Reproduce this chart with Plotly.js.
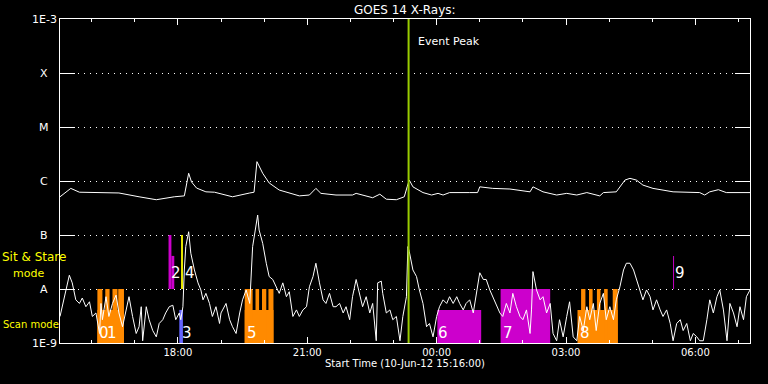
<!DOCTYPE html>
<html>
<head>
<meta charset="utf-8">
<script src="https://cdn.plot.ly/plotly-3.0.1.min.js"></script>
<style>
html,body{margin:0;padding:0;background:#000;}
#chart{width:768px;height:384px;}
</style>
</head>
<body>
<div id="chart"></div>
<script>
// ---------- data ----------
const startLabel = 'Start Time (10-Jun-12 15:16:00)';
const chartTitle = 'GOES 14 X-Rays:';
const xRange = ['2012-06-10 15:16', '2012-06-11 07:16'];

// long channel (1-8 A)
const longTime = ['15:16','15:31','15:43','16:11','16:38','17:06','17:30','17:55','18:09','18:15','18:19','18:26','18:39','18:51','19:16','19:40','19:46','19:50','19:58','20:07','20:21','20:49','21:03','21:12','21:19','21:40','22:03','22:08','22:31','22:41','22:50','23:04','23:15','23:19','23:22','23:27','23:41','23:53','00:02','00:09','00:18','00:46','00:57','01:00','01:18','01:42','02:10','02:14','02:28','02:47','03:01','03:15','03:29','03:47','03:52','04:10','04:22','04:29','04:38','04:47','05:01','05:29','06:06','06:13','06:20','06:32','06:43','07:16'];
const longFlux = [5.1e-7,7.3e-7,6.2e-7,6.0e-7,6.0e-7,5.1e-7,4.5e-7,5.1e-7,5.3e-7,1.39e-6,9.6e-7,7.4e-7,6.3e-7,6.2e-7,5.1e-7,6.0e-7,6.2e-7,2.28e-6,1.39e-6,9.2e-7,6.8e-7,5.3e-7,5.5e-7,7.3e-7,5.9e-7,5.5e-7,5.5e-7,5.9e-7,4.9e-7,5.7e-7,4.6e-7,4.5e-7,5.1e-7,7.8e-7,1.04e-6,7.8e-7,6.1e-7,5.5e-7,5.9e-7,5.5e-7,6.1e-7,6.1e-7,6.1e-7,7.8e-7,7.3e-7,7.1e-7,6.3e-7,7.8e-7,6.3e-7,5.5e-7,5.9e-7,5.5e-7,6.1e-7,5.3e-7,6.1e-7,6.3e-7,1.04e-6,1.12e-6,1.04e-6,8.4e-7,7.3e-7,6.3e-7,6.1e-7,5.5e-7,6.3e-7,6.9e-7,6.1e-7,6.1e-7];

// short channel (0.5-4 A)
const shortTime = [
'15:16','15:29','15:33','15:38','15:43','15:47','15:52','15:57','16:01','16:06',
'16:11','16:13','16:15','16:20','16:24','16:29','16:34','16:38','16:43','16:48',
'16:52','16:57','17:02','17:06','17:09','17:11','17:16','17:20','17:25','17:30',
'17:34','17:39','17:43','17:48','17:53','17:57','18:02','18:04','18:07','18:09',
'18:11','18:15','18:18','18:23','18:28','18:32','18:35','18:39','18:44','18:48',
'18:53','18:58','19:00','19:07','19:12','19:16','19:21','19:26','19:30','19:35',
'19:40','19:44','19:49','19:51','19:53','19:58','20:03','20:07','20:12','20:17',
'20:21','20:26','20:31','20:35','20:40','20:45','20:49','20:54','20:59','21:03',
'21:08','21:12','21:15','21:17','21:22','21:26','21:31','21:36','21:40','21:45',
'21:50','21:54','21:59','22:03','22:08','22:13','22:17','22:22','22:27','22:31',
'22:36','22:38','22:43','22:45','22:50','22:55','22:59','23:04','23:09','23:13',
'23:18','23:20','23:22','23:27','23:32','23:36','23:41','23:46','23:50','23:55',
'00:00','00:04','00:09','00:14','00:18','00:23','00:28','00:32','00:37','00:41',
'00:46','00:51','00:55','01:00','01:05','01:09','01:14','01:18','01:23','01:28',
'01:32','01:37','01:42','01:46','01:51','01:56','02:00','02:05','02:10','02:12',
'02:14','02:19','02:24','02:28','02:33','02:38','02:42','02:47','02:51','02:56',
'03:01','03:05','03:10','03:15','03:19','03:24','03:29','03:33','03:38','03:42',
'03:47','03:52','03:56','04:01','04:06','04:10','04:15','04:20','04:24','04:29',
'04:34','04:38','04:43','04:47','04:52','04:57','05:01','05:06','05:11','05:15',
'05:20','05:25','05:29','05:34','05:39','05:43','05:48','05:53','05:57','06:02',
'06:06','06:11','06:16','06:20','06:25','06:30','06:34','06:39','06:44','06:48',
'06:53','06:58','07:02','07:07','07:11','07:16'];
const shortFlux = [
3.1e-9,1.8e-8,1.3e-8,6.3e-9,5.4e-9,6.8e-9,4.7e-9,5.8e-9,3.1e-9,3.6e-9,
1.5e-9,5.4e-9,2.7e-9,7.2e-9,3.1e-9,5.4e-9,7.7e-9,3.6e-9,2.0e-9,4.1e-9,
7.2e-9,3.1e-9,1.5e-9,2.0e-9,4.7e-9,1.1e-9,4.7e-9,2.7e-9,1.7e-9,1.3e-9,
2.3e-9,2.7e-9,3.6e-9,4.7e-9,5.0e-9,2.7e-9,3.6e-9,2.7e-9,4.7e-9,2.25e-8,
6.1e-8,1.15e-7,4.6e-8,2.25e-8,1.3e-8,9.6e-9,6.3e-9,8.3e-9,5.4e-9,3.1e-9,
4.7e-9,2.3e-9,3.6e-9,5.4e-9,2.7e-9,2.0e-9,1.5e-9,3.6e-9,6.3e-9,9.6e-9,
5.4e-9,6.1e-8,1.43e-7,2.34e-7,1.24e-7,7.0e-8,3.0e-8,1.7e-8,1.5e-8,1.1e-8,
8.3e-9,1.3e-8,7.2e-9,8.9e-9,3.1e-9,4.1e-9,3.1e-9,4.1e-9,4.7e-9,1.1e-8,
1.7e-8,3.0e-8,1.7e-8,1.3e-8,6.3e-9,5.4e-9,8.3e-9,4.7e-9,4.7e-9,5.4e-9,
3.6e-9,4.7e-9,2.7e-9,7.2e-9,1.5e-8,8.3e-9,4.7e-9,7.2e-9,3.6e-9,5.4e-9,
1.1e-9,1.3e-8,1.4e-8,8.3e-9,3.6e-9,4.1e-9,2.7e-9,3.1e-9,1.1e-9,3.1e-9,
7.2e-9,6.1e-8,4.9e-8,2.25e-8,1.7e-8,9.6e-9,5.4e-9,2.0e-9,2.3e-9,1.3e-9,
3.1e-9,4.7e-9,6.3e-9,5.4e-9,7.2e-9,5.4e-9,7.2e-9,5.4e-9,4.1e-9,5.4e-9,
6.3e-9,3.6e-9,8.3e-9,2.0e-8,1.5e-8,1.5e-8,9.6e-9,7.2e-9,5.4e-9,3.6e-9,
3.1e-9,5.4e-9,3.6e-9,8.3e-9,4.7e-9,3.1e-9,2.7e-9,4.1e-9,1.5e-9,4.1e-9,
2.1e-8,9.6e-9,6.3e-9,7.2e-9,3.6e-9,5.4e-9,1.5e-9,1.1e-9,2.7e-9,1.3e-9,
3.1e-9,5.8e-9,1.3e-9,1.1e-9,3.1e-9,1.7e-9,4.7e-9,2.7e-9,5.4e-9,1.7e-9,
5.4e-9,8.3e-9,2.7e-9,4.7e-9,2.7e-9,6.3e-9,1.1e-8,2.25e-8,3.0e-8,3.0e-8,
2.25e-8,1.5e-8,9.6e-9,6.3e-9,9.6e-9,7.2e-9,4.1e-9,6.3e-9,4.1e-9,3.1e-9,
4.1e-9,2.3e-9,1.1e-9,2.3e-9,2.7e-9,1.7e-9,2.3e-9,1.1e-9,1.5e-9,1.3e-9,
1.1e-9,1.1e-9,2.7e-9,6.3e-9,3.6e-9,7.2e-9,9.6e-9,4.1e-9,1.1e-9,5.4e-9,
3.6e-9,2.0e-9,4.7e-9,2.7e-9,7.2e-9,9.6e-9];

// y axis ticks (flux classes)
const yTickVals = [1e-9, 1e-8, 1e-7, 1e-6, 1e-5, 1e-4, 1e-3];
const yTickText = ['1E-9', 'A', 'B', 'C', 'M', 'X', '1E-3'];

// observation blocks: start, end, lower flux, upper flux, kind
const blockStart = ['16:08','16:08','16:19','16:29','16:37','17:47','17:51','18:02','18:04:30','19:33','19:33','19:48','19:57','20:06','00:01','01:29','03:16','03:21','03:32','03:43','03:53','04:05','05:29'];
const blockEnd   = ['16:45','16:15','16:25','16:36','16:45','17:51','17:55','18:07','18:07','20:13','19:44','19:53','20:03','20:13','01:02','02:38','04:12','03:27','03:37','03:48','03:58','04:12','05:30:20'];
const blockLow   = [1e-9,1e-9,1e-9,1e-9,1e-9,1e-8,1e-8,1e-9,1e-8,1e-9,1e-9,1e-9,1e-9,1e-9,1e-9,1e-9,1e-9,1e-9,1e-9,1e-9,1e-9,1e-9,1e-8];
const blockHigh  = [4.1e-9,1e-8,1e-8,1e-8,1e-8,1e-7,4.1e-8,4.1e-9,1e-7,4.1e-9,1e-8,1e-8,1e-8,1e-8,4.1e-9,1e-8,4.1e-9,1e-8,1e-8,1e-8,1e-8,1e-8,4.1e-8];
const blockKind  = ['scan','scan','scan','scan','scan','sit','sit','blue','yellow','scan','scan','scan','scan','scan','sit','sit','scan','scan','scan','scan','scan','scan','sit'];

// block number labels
const labelText  = ['0','1','2','3','4','5','6','7','8','9'];
const labelTime  = ['16:09','16:20','17:49','18:04','18:08','19:35','00:01','01:31','03:18','05:30'];
const labelFlux  = [1.56e-9,1.56e-9,2.02e-8,1.56e-9,2.02e-8,1.56e-9,1.56e-9,1.56e-9,1.56e-9,2.02e-8];

// event peak
const eventTime = '23:21';
const eventText = 'Event Peak';

// ---------- rendering ----------
const toDate = t => (t < '15:00' ? '2012-06-11 ' : '2012-06-10 ') + t;
const kindColor = {scan:'#ff8a00', sit:'#cc00cc', blue:'#6464ff', yellow:'#ffff00'};
const FONT = 'DejaVu Sans, sans-serif';

const traces = blockStart.map((s, i) => {
  const a = toDate(s), b = toDate(blockEnd[i]);
  return {x:[a, b, b, a, a], y:[blockLow[i], blockLow[i], blockHigh[i], blockHigh[i], blockLow[i]],
    type:'scatter', mode:'lines', fill:'toself', fillcolor:kindColor[blockKind[i]],
    line:{width:0, color:kindColor[blockKind[i]]}, hoverinfo:'skip'};
});
traces.push(
  {x: shortTime.map(toDate), y: shortFlux, type:'scatter', mode:'lines',
   line:{color:'#ffffff', width:1}, hoverinfo:'skip'},
  {x: longTime.map(toDate), y: longFlux, type:'scatter', mode:'lines',
   line:{color:'#ffffff', width:1}, hoverinfo:'skip'}
);

const shapes = [{type:'line', xref:'x', yref:'paper', layer:'above',
  x0: toDate(eventTime), x1: toDate(eventTime), y0:0, y1:1,
  line:{color:'#99cc00', width:2}}];

const annotations = [];
yTickVals.forEach((v, i) => annotations.push({
  xref:'paper', yref:'y', x:0, y:Math.log10(v), xshift:-16,
  xanchor:'center', yanchor:'middle', showarrow:false,
  text: yTickText[i], font:{family:FONT, size:11, color:'#ffffff'}
}));
labelText.forEach((t, i) => annotations.push({
  xref:'x', yref:'y', x: toDate(labelTime[i]), y: Math.log10(labelFlux[i]),
  xanchor:'left', yanchor:'middle', showarrow:false, borderpad:0,
  text:t, font:{family:FONT, size:15, color:'#ffffff'}
}));
annotations.push({xref:'x', yref:'paper', x: toDate(eventTime), y:0.93, xshift:7,
  xanchor:'left', yanchor:'middle', showarrow:false, text:eventText,
  font:{family:FONT, size:11, color:'#ffffff'}});
annotations.push({xref:'paper', yref:'paper', x:0, xshift:-59, y:0.266, xanchor:'left', yanchor:'middle',
  showarrow:false, borderpad:0, text:'Sit & Stare', font:{family:FONT, size:12, color:'#ffff00'}});
annotations.push({xref:'paper', yref:'paper', x:0, xshift:-48, y:0.216, xanchor:'left', yanchor:'middle',
  showarrow:false, borderpad:0, text:'mode', font:{family:FONT, size:11, color:'#ffff00'}});
annotations.push({xref:'paper', yref:'paper', x:0, xshift:-59, y:0.0586, xanchor:'left', yanchor:'middle',
  showarrow:false, text:'Scan mode', font:{family:FONT, size:10, color:'#ffff00'}});

const layout = {
  width:768, height:384,
  margin:{l:60, r:18, t:19, b:41, pad:0},
  paper_bgcolor:'#000000', plot_bgcolor:'#000000',
  showlegend:false,
  title:{text:chartTitle, x:0.527, xanchor:'center', y:0.975, yanchor:'middle', yref:'container',
         font:{family:FONT, size:12, color:'#ffffff'}},
  xaxis:{type:'date', range:xRange.slice(), tick0:'2012-06-10 18:00', dtick:10800000,
    tickformat:'%H:%M', ticks:'inside', ticklen:6, tickwidth:1, tickcolor:'#ffffff',
    showline:true, linecolor:'#ffffff', linewidth:1, mirror:'ticks',
    showgrid:false, zeroline:false,
    minor:{dtick:3600000, tick0:'2012-06-10 18:00', ticks:'inside', ticklen:3, tickcolor:'#ffffff', showgrid:false},
    tickfont:{family:FONT, size:10, color:'#ffffff'},
    title:{text:startLabel, standoff:2, font:{family:FONT, size:10, color:'#ffffff'}}},
  yaxis:{type:'log', range:[-9,-3], tickvals:yTickVals, showticklabels:false,
    ticks:'inside', ticklen:15, tickwidth:1, tickcolor:'#ffffff',
    showline:true, linecolor:'#ffffff', linewidth:1, mirror:'ticks',
    showgrid:true, gridcolor:'#ffffff', gridwidth:1, griddash:'1px,5px', zeroline:false},
  shapes:shapes, annotations:annotations
};

Plotly.newPlot('chart', traces, layout, {staticPlot:true, displayModeBar:false});
</script>
</body>
</html>
